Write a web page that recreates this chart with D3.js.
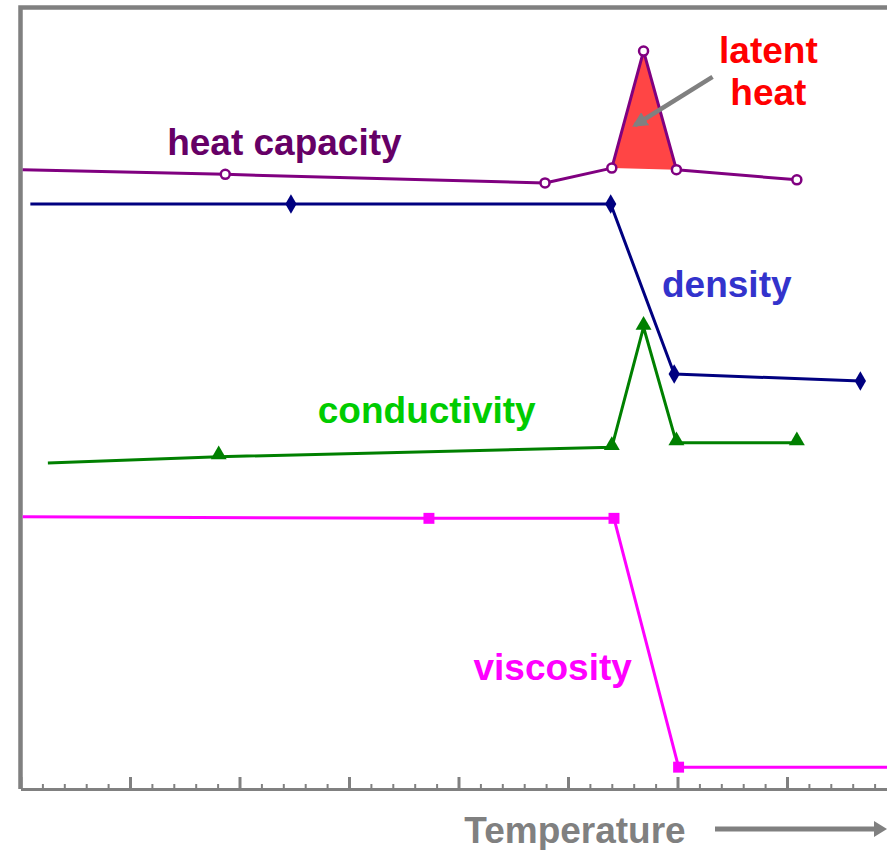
<!DOCTYPE html>
<html>
<head>
<meta charset="utf-8">
<script src="https://cdn.jsdelivr.net/npm/d3@7"></script>
<style>
  html, body { margin: 0; padding: 0; background: #fff; }
  svg { display: block; }
  text { font-family: "Liberation Sans", Arial, sans-serif; font-weight: bold; }
</style>
</head>
<body>
<svg id="canvas" width="887" height="850"></svg>
<script>
// temperature (arbitrary units) and property value (relative, 0-100)
const heatT = [0.02, 1.87, 4.79, 5.40, 5.69, 5.99, 7.09]
const heatV = [79.4, 78.8, 77.7, 79.6, 94.6, 79.4, 78.1]
const heatMarked = [false, true, true, true, true, true, true]

const densT = [0.09, 2.47, 5.39, 5.97, 7.67]
const densV = [75.0, 75.0, 75.0, 53.2, 52.3]
const densMarked = [false, true, true, true, true]

const condT = [0.25, 1.81, 5.40, 5.69, 5.99, 7.09]
const condV = [41.8, 42.6, 43.8, 59.2, 44.4, 44.4]
const condMarked = [false, true, true, true, true, true]

const viscT = [0.02, 3.73, 5.42, 6.01, 8.0]
const viscV = [34.9, 34.7, 34.7, 2.8, 2.8]
const viscMarked = [false, true, true, true, false]

// indexes of the heat capacity points that bound the latent heat peak
const latentIdx = [3, 4, 5]

const majorTicks = d3.range(0, 9, 1)
const minorTicks = d3.range(0, 8.01, 0.2).filter(v => Math.abs(v - Math.round(v)) > 1e-6)

const labels = [
  { text: "heat capacity", t: 2.41, v: 81.3, color: "#660066" },
  { text: "density",       t: 6.45, v: 63.1, color: "#3333cc" },
  { text: "conductivity",  t: 3.71, v: 46.9, color: "#00cc00" },
  { text: "viscosity",     t: 4.86, v: 14.0, color: "#ff00ff" },
  { text: "latent",        t: 6.83, v: 93.1, color: "#ff0000" },
  { text: "heat",          t: 6.83, v: 87.7, color: "#ff0000" }
]
const pointerFrom = [6.32, 91.3]
const pointerTo = [5.61, 85.1]

const svg = d3.select("#canvas")
const grey = "#808080"

const x = d3.scaleLinear().domain([0, 8]).range([20.5, 896.5])
const y = d3.scaleLinear().domain([0, 100]).range([789, 9])

const zip = (ts, vs, ms) => ts.map((t, i) => ({ t, v: vs[i], m: ms[i] }))
const series = [
  { pts: zip(heatT, heatV, heatMarked), color: "#800080", sym: "circle" },
  { pts: zip(densT, densV, densMarked), color: "#000080", sym: "diamond" },
  { pts: zip(condT, condV, condMarked), color: "#008000", sym: "triangle" },
  { pts: zip(viscT, viscV, viscMarked), color: "#ff00ff", sym: "square" }
]

const defs = svg.append("defs")
defs.append("marker")
  .attr("id", "head")
  .attr("viewBox", "0 0 10 10")
  .attr("refX", 8).attr("refY", 5)
  .attr("markerWidth", 3.4).attr("markerHeight", 3.4)
  .attr("markerUnits", "strokeWidth")
  .attr("orient", "auto")
  .append("path").attr("d", "M0,0 L10,5 L0,10 Z").attr("fill", grey)

// latent heat area
const latent = latentIdx.map(i => series[0].pts[i])
svg.append("path")
  .attr("d", d3.line().x(d => x(d.t)).y(d => y(d.v))(latent) + "Z")
  .attr("fill", "#ff4545")

// frame: top and left edges
svg.append("path")
  .attr("d", `M${x(0)},${y(0)} V7.5 H${x(8)}`)
  .attr("fill", "none").attr("stroke", grey).attr("stroke-width", 4.5)

// bottom axis, ticks pointing up
const minorAxis = d3.axisTop(x).tickValues(minorTicks).tickSize(5).tickSizeOuter(0).tickFormat("")
const majorAxis = d3.axisTop(x).tickValues(majorTicks).tickSize(12).tickSizeOuter(0).tickFormat("")
const gMinor = svg.append("g").attr("transform", `translate(0,${y(0)})`).call(minorAxis)
const gMajor = svg.append("g").attr("transform", `translate(0,${y(0)})`).call(majorAxis)
gMinor.selectAll("line").attr("stroke", grey).attr("stroke-width", 2)
gMajor.selectAll("line").attr("stroke", grey).attr("stroke-width", 3)
gMinor.select(".domain").remove()
gMajor.select(".domain").attr("stroke", grey).attr("stroke-width", 3)

// series lines and markers
const line = d3.line().x(d => x(d.t)).y(d => y(d.v))
series.forEach(s => {
  svg.append("path")
    .attr("d", line(s.pts))
    .attr("fill", "none")
    .attr("stroke", s.color)
    .attr("stroke-width", 3)
    .attr("stroke-linejoin", "round")

  const g = svg.append("g")
  s.pts.filter(d => d.m).forEach(d => {
    if (s.sym === "circle") {
      g.append("circle")
        .attr("cx", x(d.t)).attr("cy", y(d.v)).attr("r", 4.5)
        .attr("fill", "#fff").attr("stroke", s.color).attr("stroke-width", 2.5)
    } else {
      const type = { diamond: d3.symbolDiamond, triangle: d3.symbolTriangle, square: d3.symbolSquare }[s.sym]
      const size = { diamond: 110, triangle: 110, square: 120 }[s.sym]
      g.append("path")
        .attr("d", d3.symbol().type(type).size(size)())
        .attr("transform", `translate(${x(d.t)},${y(d.v) - (s.sym === "triangle" ? 2 : 0)})`)
        .attr("fill", s.color)
    }
  })
})

// pointer to latent heat area
svg.append("line")
  .attr("x1", x(pointerFrom[0])).attr("y1", y(pointerFrom[1]))
  .attr("x2", x(pointerTo[0])).attr("y2", y(pointerTo[1]))
  .attr("stroke", grey).attr("stroke-width", 4.5)
  .attr("marker-end", "url(#head)")

// labels
svg.selectAll("text.lbl")
  .data(labels)
  .enter().append("text")
  .attr("class", "lbl")
  .attr("x", d => x(d.t))
  .attr("y", d => y(d.v))
  .attr("text-anchor", "middle")
  .attr("font-size", 37)
  .attr("fill", d => d.color)
  .text(d => d.text)

// axis title with arrow
svg.append("text")
  .attr("x", 575).attr("y", 843)
  .attr("text-anchor", "middle")
  .attr("font-size", 37)
  .attr("fill", grey)
  .text("Temperature")
svg.append("line")
  .attr("x1", 715).attr("y1", 829).attr("x2", 877).attr("y2", 829)
  .attr("stroke", grey).attr("stroke-width", 5)
svg.append("path")
  .attr("d", "M874,821 L887,829 L874,837 Z")
  .attr("fill", grey)
</script>
</body>
</html>
